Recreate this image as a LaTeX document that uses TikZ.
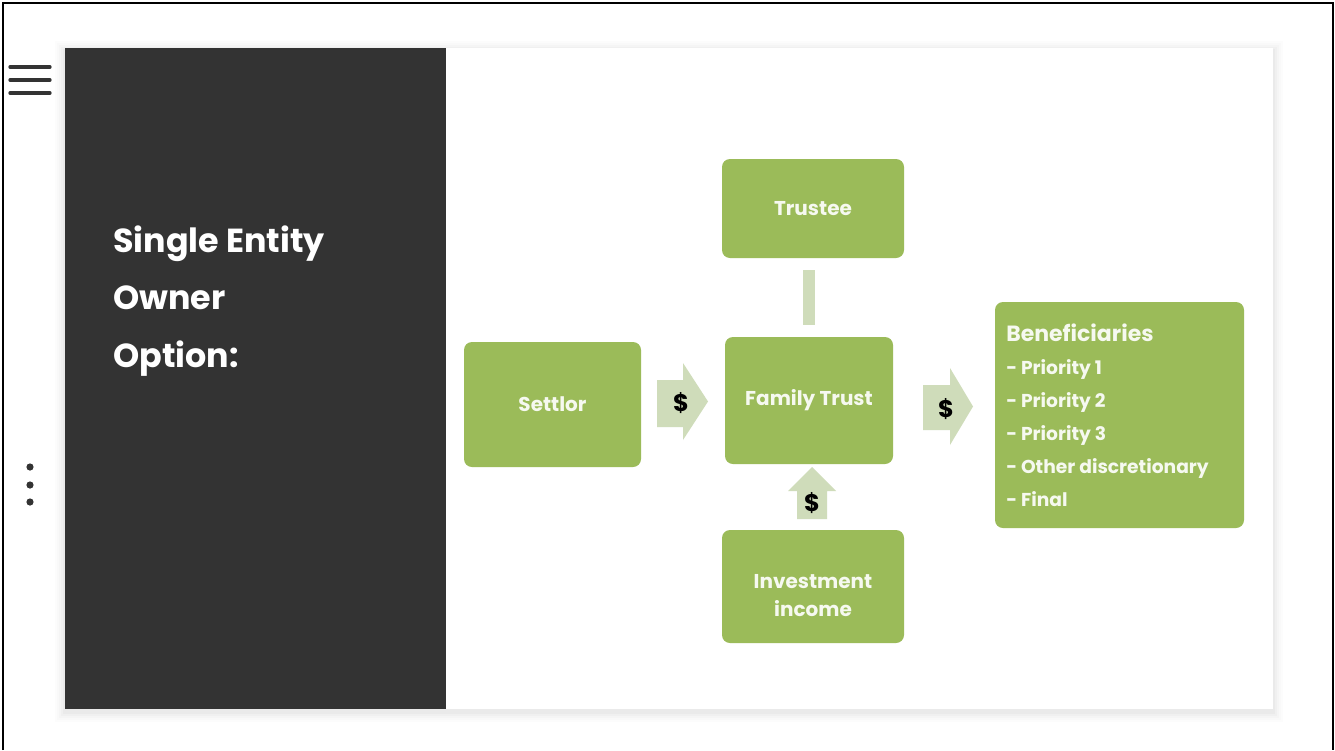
\documentclass[tikz,border=0pt]{standalone}
\usepackage{fontspec}
\setmainfont{Poppins}
\usetikzlibrary{calc}
\definecolor{panel}{HTML}{333333}
\definecolor{boxgreen}{HTML}{9BBB59}
\definecolor{lightgreen}{HTML}{CFDCBA}
\definecolor{boxtext}{HTML}{F6F9F0}
\tikzset{
  gbox/.style={fill=boxgreen, rounded corners=6pt, inner sep=0pt, text=boxtext,
    font=\fontsize{15}{18}\selectfont\bfseries, align=center},
  flowarrow/.style={fill=lightgreen},
  dollar/.style={font=\fontsize{18}{20}\selectfont\bfseries, text=black, inner sep=0pt},
  menuline/.style={draw=panel, line width=2.5pt, line cap=round},
}
\begin{document}
\begin{tikzpicture}[x=0.75pt,y=-0.75pt]
\useasboundingbox (0,0) rectangle (1335,750);
% outer frame
\draw[line width=1.6pt] (3,750) -- (3,3) -- (1333,3) -- (1333,750);
% card shadow
\foreach \s/\o in {10/0.01,8/0.012,6/0.015,4/0.02,2/0.025}{
  \fill[black, opacity=\o] (65-\s,48-\s+3) rectangle (1273+\s,709+\s+3);
}
% white card and dark panel
\fill[white] (446,48) rectangle (1273,709);
\fill[panel] (65,48) rectangle (446,709);
% menu icon
\draw[menuline] (10,67) -- (50,67);
\draw[menuline] (10,80) -- (50,80);
\draw[menuline] (10,93) -- (50,93);
\foreach \yy in {467,485,502} \fill[panel] (30,\yy) circle (3.6);
% title
\node[anchor=west, text=white, font=\fontsize{25}{43}\selectfont\bfseries, align=left, inner sep=0pt]
  (title) at (113,301) {Single Entity\\Owner\\Option:};
% boxes
\node[gbox, minimum width=177*0.75pt, minimum height=125*0.75pt] (settlor) at (552.5,404.5) {Settlor};
\node[gbox, minimum width=182*0.75pt, minimum height=99*0.75pt] (trustee) at (813,208.5) {Trustee};
\node[gbox, minimum width=168*0.75pt, minimum height=127*0.75pt] (ft) at (809,400.5) {Family Trust};
\node[gbox, minimum width=249*0.75pt, minimum height=226*0.75pt] (ben) at (1119.5,415) {};
\node[gbox, minimum width=182*0.75pt, minimum height=113*0.75pt] (inv) at (813,586.5) {};
\node[text=boxtext, font=\fontsize{15}{21}\selectfont\bfseries, align=center, inner sep=0pt]
  (invtext) at (813,596) {Investment\\income};
\node[anchor=north west, text=boxtext, align=left, inner sep=0pt,
  font=\fontsize{14}{24.75}\selectfont\bfseries] (bentext) at (1006,324)
  {{\fontsize{16.5}{18}\selectfont Beneficiaries}\\- Priority 1\\- Priority 2\\- Priority 3\\- Other discretionary\\- Final};
% link trustee - family trust
\draw[lightgreen, line width=12*0.75pt, shorten <=12*0.75pt, shorten >=12*0.75pt]
  (trustee.south -| ft.north) -- (ft.north);
% arrows
\fill[flowarrow] (657,380) -- (683,380) -- (683,363) -- (708,401.5) -- (683,440) -- (683,427) -- (657,427) -- cycle;
\node[dollar] (d1) at (681,403) {\$};
\fill[flowarrow] (923,385) -- (950,385) -- (950,368) -- (973,406.5) -- (950,445) -- (950,430) -- (923,430) -- cycle;
\node[dollar] (d2) at (946,409) {\$};
\fill[flowarrow] (797,519) -- (797,491) -- (788,491) -- (812,467) -- (836,491) -- (827,491) -- (827,519) -- cycle;
\node[dollar] (d3) at (812,503) {\$};
\end{tikzpicture}
\end{document}
